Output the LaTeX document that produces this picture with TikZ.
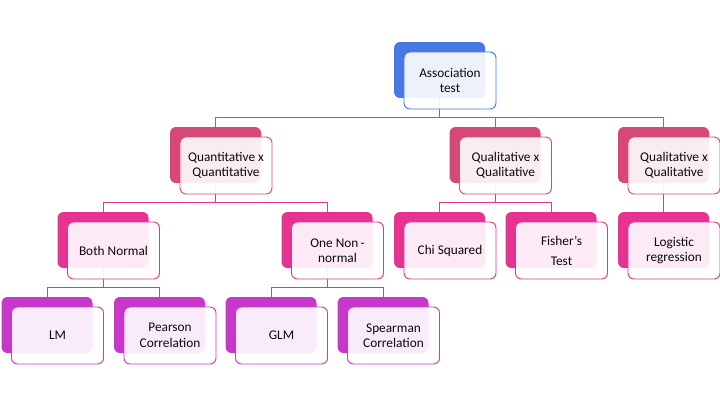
\documentclass[tikz,border=0pt]{standalone}
\usepackage{fontspec}
\setmainfont{Carlito}
\usetikzlibrary{backgrounds}
\definecolor{cBlue}{RGB}{72,120,228}
\definecolor{cRed}{RGB}{214,72,118}
\definecolor{cPink}{RGB}{230,50,145}
\definecolor{cPurp}{RGB}{198,56,200}
\definecolor{txt}{RGB}{10,10,10}
\tikzset{
  backbox/.style={rectangle, rounded corners=6pt, minimum width=91pt, minimum height=56pt, inner sep=0pt, fill=#1},
  frontbox/.style={rectangle, rounded corners=6pt, minimum width=92pt, minimum height=57pt, inner sep=0pt,
    draw=#1, line width=0.9pt, fill=white, fill opacity=0.9, text opacity=1, text=txt,
    font=\fontsize{13.3}{15.5}\selectfont, align=center},
  conn/.style={draw=#1, line width=0.9pt},
}
\newcommand{\unitbox}[5]{%
  \node[backbox=#4] (#1-b) at (#2,#3) {};
  \node[frontbox=#4] (#1) at ([shift={(10.5pt,-10.5pt)}]#1-b.center) {#5};
}
\begin{document}
\begin{tikzpicture}[x=1pt,y=-1pt]
\useasboundingbox (0,0) rectangle (720,405);
% level 1
\unitbox{root}{439.5}{70}{cBlue}{Association\\test}
% level 2
\unitbox{qq}{215.5}{155}{cRed}{Quantitative x\\Quantitative}
\unitbox{ql}{495}{155}{cRed}{Qualitative x\\Qualitative}
\unitbox{qr}{663.5}{155}{cRed}{Qualitative x\\Qualitative}
% level 3
\unitbox{bn}{103}{240}{cPink}{Both Normal}
\unitbox{onn}{327}{240}{cPink}{One Non\,-\\normal}
\unitbox{chi}{439.5}{240}{cPink}{Chi Squared}
\unitbox{fis}{551}{240}{cPink}{Fisher's\\[4.5pt]Test}
\unitbox{log}{663.5}{240}{cPink}{Logistic\\regression}
% level 4
\unitbox{lm}{47}{325}{cPurp}{LM}
\unitbox{pc}{159.5}{325}{cPurp}{Pearson\\Correlation}
\unitbox{glm}{271}{325}{cPurp}{GLM}
\unitbox{sc}{383}{325}{cPurp}{Spearman\\Correlation}
% bus coordinates
\coordinate (bus1) at (0,117.5);
\coordinate (bus2) at (0,202);
\coordinate (bus3) at (0,287);
\begin{pgfonlayer}{background}
\draw[conn=cRed] (root-b.center) -- (root-b.center |- bus1) -| (qq-b.center);
\draw[conn=cRed] (root-b.center |- bus1) -| (ql-b.center);
\draw[conn=cRed] (root-b.center |- bus1) -| (qr-b.center);
\draw[conn=cPink] (qq-b.center) -- (qq-b.center |- bus2) -| (bn-b.center);
\draw[conn=cPink] (qq-b.center |- bus2) -| (onn-b.center);
\draw[conn=cPink] (ql-b.center) -- (ql-b.center |- bus2) -| (chi-b.center);
\draw[conn=cPink] (ql-b.center |- bus2) -| (fis-b.center);
\draw[conn=cPink] (qr-b.center) -- (log-b.center);
\draw[conn=cPurp] (bn-b.center) -- (bn-b.center |- bus3) -| (lm-b.center);
\draw[conn=cPurp] (bn-b.center |- bus3) -| (pc-b.center);
\draw[conn=cPurp] (onn-b.center) -- (onn-b.center |- bus3) -| (glm-b.center);
\draw[conn=cPurp] (onn-b.center |- bus3) -| (sc-b.center);
\end{pgfonlayer}
\end{tikzpicture}
\end{document}
